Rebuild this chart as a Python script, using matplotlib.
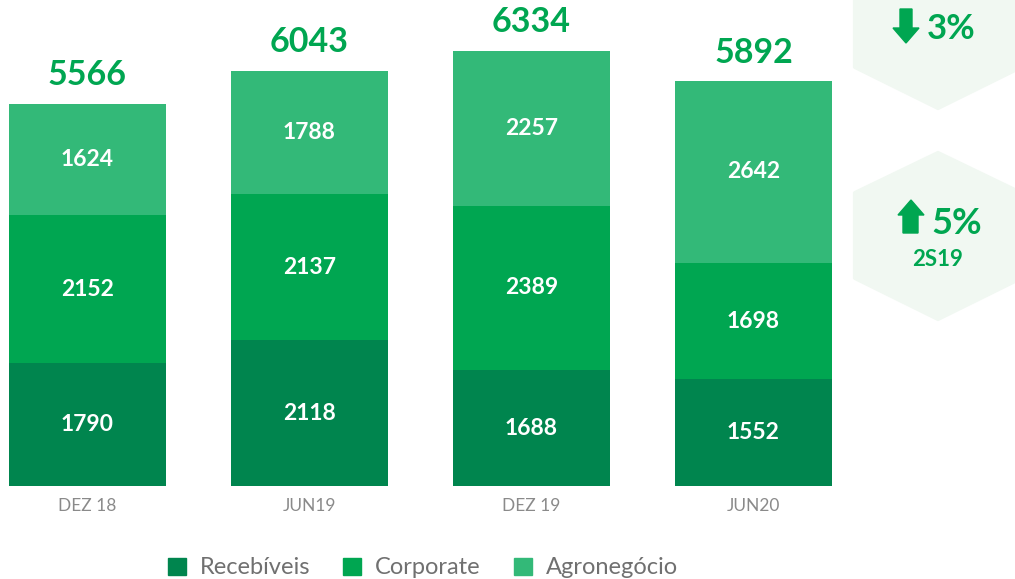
import matplotlib.pyplot as plt
from matplotlib.patches import Polygon, Patch
import numpy as np

plt.rcParams['font.family'] = ['Lato', 'DejaVu Sans']

# dados
periodos = ['DEZ 18', 'JUN19', 'DEZ 19', 'JUN20']
recebiveis = [1790, 2118, 1688, 1552]
corporate = [2152, 2137, 2389, 1698]
agronegocio = [1624, 1788, 2257, 2642]
totais = [5566, 6043, 6334, 5892]

cores = {
    'Recebíveis': '#00854E',
    'Corporate': '#00A651',
    'Agronegócio': '#33B978',
}
verde_txt = '#00A651'
hex_cor = '#F1F8F2'

fig = plt.figure(figsize=(10.15, 5.79), dpi=100)
ax = fig.add_axes([0, 93 / 579, 1, 486 / 579])
ax.patch.set_alpha(0)

x = np.arange(len(periodos))
w = 0.707
base = np.zeros(len(periodos))
for nome, vals in [('Recebíveis', recebiveis), ('Corporate', corporate), ('Agronegócio', agronegocio)]:
    ax.bar(x, vals, w, bottom=base, color=cores[nome], edgecolor='none', label=nome)
    for xi, b, v in zip(x, base, vals):
        ax.text(xi, b + v / 2, f'{v}', ha='center', va='center', color='white',
                fontsize=16.5, fontweight='bold')
    base = base + np.array(vals)

for xi, t in zip(x, totais):
    ax.annotate(f'{t}', (xi, t), xytext=(0, 9), textcoords='offset points',
                ha='center', va='bottom', color=verde_txt, fontsize=24.5, fontweight='bold')

ax.set_xlim(-0.394, 4.178)
ax.set_ylim(0, 7074)
ax.set_xticks(x)
ax.set_xticklabels(periodos, fontsize=12.5, color='#8a8a8a')
ax.tick_params(axis='x', length=0, pad=8.5)
ax.set_yticks([])
for s in ax.spines.values():
    s.set_visible(False)

handles = [Patch(color=cores[k], label=k) for k in cores]
fig.legend(handles=handles, loc='center', bbox_to_anchor=(423 / 1015, 1 - 568 / 579),
           ncol=3, frameon=False, fontsize=17, labelcolor='#707070',
           handlelength=0.75, handleheight=0.75, handletextpad=0.6, columnspacing=1.4)

# hexagonos decorativos (coordenadas em pixels)
deco = fig.add_axes([0, 0, 1, 1], zorder=-1)
deco.set_xlim(0, 1015)
deco.set_ylim(579, 0)
deco.axis('off')
for dy in (-211, 0):
    pts = [(938, 153 + dy), (1021, 193 + dy), (1021, 278 + dy), (938, 319 + dy),
           (855, 278 + dy), (855, 193 + dy)]
    deco.add_patch(Polygon(pts, closed=True, facecolor=hex_cor, edgecolor=hex_cor,
                           linewidth=3, joinstyle='round'))

seta_baixo = [(900, 9), (912, 9), (912, 28), (919, 28), (906, 43), (893, 28), (900, 28)]
seta_cima = [(903, 233), (918, 233), (918, 215), (924, 215), (911, 200), (898, 215), (903, 215)]
deco.add_patch(Polygon(seta_baixo, closed=True, color=verde_txt))
deco.add_patch(Polygon(seta_cima, closed=True, color=verde_txt))

deco.text(927, 29, '3%', ha='left', va='center', color=verde_txt, fontsize=25, fontweight='bold')
deco.text(931, 223, '5%', ha='left', va='center', color=verde_txt, fontsize=26, fontweight='bold')
deco.text(938, 260, '2S19', ha='center', va='center', color=verde_txt, fontsize=16, fontweight='bold')

fig.savefig('out.png', dpi=100)
